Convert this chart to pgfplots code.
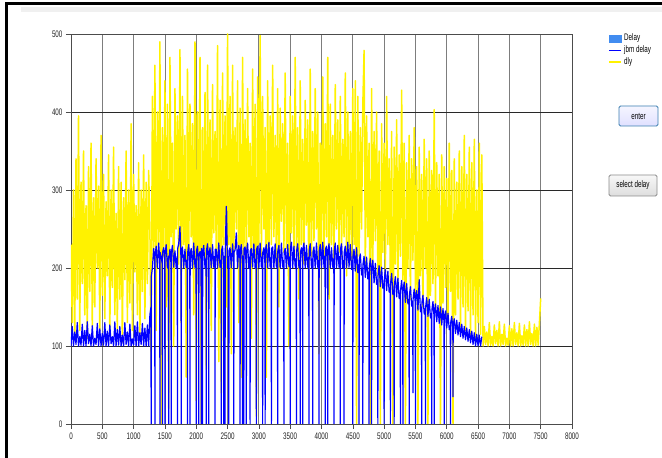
\documentclass[border=0pt]{standalone}
\usepackage{fontspec}
\usepackage{pgfplots}
\pgfplotsset{compat=1.18}
\newfontfamily\lf[FakeStretch=0.66]{Liberation Sans}
\newcommand{\lfs}{\lf\fontsize{9.5}{11}\selectfont}
\definecolor{delayblue}{RGB}{65,140,240}
\definecolor{ygrid}{RGB}{40,40,40}
\definecolor{xgrid}{RGB}{125,125,125}
\definecolor{btnb}{RGB}{60,127,177}
\begin{document}
\begin{tikzpicture}[x=1pt,y=1pt]
\useasboundingbox (0,0) rectangle (662,458);
\fill[white] (0,0) rectangle (662,458);
\fill[black!6] (21,446.3) rectangle (662,450.7);
\draw[line width=3.2pt] (6.5,-2) -- (6.5,454.2) -- (664,454.2);
\begin{axis}[
  at={(71pt,34pt)}, anchor=origin, scale only axis,
  width=501pt, height=390pt,
  xmin=0, xmax=8000, ymin=0, ymax=500,
  xtick={0,500,...,8000}, ytick={0,100,...,500},
  scaled x ticks=false, scaled y ticks=false,
  xmajorgrids, ymajorgrids,
  x grid style={xgrid, line width=0.8pt},
  y grid style={ygrid, line width=0.8pt},
  axis line style={black!70, line width=0.8pt},
  tick align=outside, major tick length=5pt, tick pos=left,
  tick style={black!70, line width=0.6pt},
  ticklabel style={font=\lfs, text=black!85},
  /pgf/number format/assume math mode=true,
  /pgf/number format/1000 sep={},
  legend cell align=left,
  legend style={at={(1.0719,1.0)}, anchor=north west, draw=none, fill=none,
    inner sep=0pt, row sep=3.5pt,
    nodes={inner sep=0pt, text height=6.5pt, text depth=2pt, font=\lfs},
    /tikz/every odd column/.append style={column sep=2pt}},
]
\addlegendimage{legend image code/.code={\fill[delayblue] (0pt,-3.5pt) rectangle (12pt,3.5pt);}}
\addlegendentry{Delay}
\addlegendimage{legend image code/.code={\draw[blue,line width=1.6pt] (0pt,0pt) -- (12pt,0pt);}}
\addlegendentry{jbm delay}
\addlegendimage{legend image code/.code={\draw[yellow,line width=2pt] (0pt,0pt) -- (12pt,0pt);}}
\addlegendentry{dly}
% dly
\addplot[yellow, line width=1.5pt, line join=round, forget plot] coordinates {
(0,230)(20,130)(40,300)(60,115)(80,340)(100,160)(120,395)(140,120)(160,310)(180,180)
(200,350)(220,140)(240,280)(260,110)(280,330)(300,170)(320,360)(340,125)(360,290)(380,150)
(400,340)(420,200)(440,305)(460,120)(480,370)(500,165)(520,320)(540,135)(560,285)(580,190)
(600,345)(620,115)(640,300)(660,175)(680,355)(700,140)(720,270)(740,120)(760,330)(780,160)
(800,310)(820,105)(840,290)(860,185)(880,350)(900,130)(920,300)(940,155)(960,385)(980,120)
(1000,320)(1020,195)(1040,280)(1060,140)(1080,335)(1100,110)(1120,300)(1140,170)(1160,345)(1180,135)
(1200,310)(1220,180)(1240,325)
(1260,250)(1280,70)(1300,420)
(1320,210)(1340,460)(1360,120)(1380,400)(1400,230)(1420,490)(1440,0)(1460,380)(1480,215)(1500,440)
(1520,150)(1540,410)(1560,20)(1580,470)(1600,240)(1620,360)(1640,100)(1660,430)(1680,250)(1700,395)
(1720,205)(1740,480)(1760,130)(1780,420)(1800,230)(1820,370)(1840,60)(1860,455)(1880,220)(1900,410)
(1920,240)(1940,385)(1960,140)(1980,490)(2000,30)(2020,400)(2040,210)(2060,470)(2080,0)(2100,380)
(2120,225)(2140,425)(2160,70)(2180,460)(2200,220)(2220,390)(2240,120)(2260,435)(2280,245)(2300,375)
(2320,210)(2340,485)(2360,80)(2380,415)(2400,40)(2420,450)(2440,230)(2460,395)(2480,150)(2500,500)
(2520,230)(2540,420)(2560,90)(2580,460)(2600,215)(2620,380)(2640,250)(2660,440)(2680,130)(2700,405)
(2720,60)(2740,470)(2760,210)(2780,390)(2800,200)(2820,430)(2840,240)(2860,360)(2880,110)(2900,455)
(2920,220)(2940,410)(2960,10)(2980,445)(3000,230)
(3020,498)(3040,215)(3060,420)(3080,250)(3100,380)(3120,60)(3140,440)(3160,210)(3180,395)(3200,230)
(3220,460)(3240,240)(3260,370)(3280,205)(3300,430)(3320,150)(3340,405)(3360,260)(3380,385)(3400,220)
(3420,450)(3440,225)(3460,360)(3480,100)(3500,420)(3520,245)(3540,395)(3560,210)(3580,470)(3600,215)
(3620,380)(3640,160)(3660,440)(3680,230)(3700,365)(3720,205)(3740,415)(3760,255)(3780,390)(3800,140)
(3820,455)(3840,215)(3860,375)(3880,235)(3900,430)(3920,250)(3940,400)(3960,90)(3980,360)(4000,225)
(4020,445)(4040,215)(4060,385)(4080,240)(4100,470)(4120,160)(4140,410)(4160,230)(4180,370)(4200,205)
(4220,435)(4240,250)(4260,390)(4280,220)(4300,420)(4320,215)(4340,365)(4360,240)(4380,450)(4400,190)
(4420,400)(4440,225)(4460,375)(4480,200)(4500,430)
(4520,230)(4540,440)(4560,0)(4580,420)(4600,215)(4620,380)(4640,250)(4660,410)(4680,479)(4700,200)
(4720,395)(4740,240)(4760,360)(4780,0)(4800,430)(4820,210)(4840,375)(4860,235)(4880,400)(4900,190)
(4920,350)(4940,0)(4960,385)(4980,220)(5000,360)(5020,195)(5040,420)(5060,230)(5080,340)(5100,180)
(5120,375)(5140,0)(5160,355)(5180,205)(5200,390)(5220,175)(5240,345)(5260,215)(5280,428)(5300,185)
(5320,360)(5340,0)(5360,335)(5380,200)(5400,370)(5420,160)(5440,340)(5460,210)(5480,380)(5500,170)
(5520,330)(5540,0)(5560,355)(5580,190)(5600,320)(5620,150)(5640,365)(5660,200)(5680,340)(5700,0)
(5720,350)(5740,165)(5760,325)(5780,180)(5800,403)(5820,145)(5840,335)(5860,190)(5880,320)(5900,0)
(5920,345)(5940,155)(5960,330)(5980,175)(6000,315)(6020,135)(6040,360)(6060,170)(6080,325)(6100,0)
(6120,340)(6140,140)(6160,310)(6180,160)(6200,350)(6220,125)(6240,330)(6260,150)(6280,370)(6300,120)
(6320,320)(6340,145)(6360,355)(6380,115)(6400,335)(6420,140)(6440,365)(6460,110)(6480,300)(6500,130)
(6520,360)(6540,115)(6560,345)
(6580,100)(6600,125)(6620,102)(6640,118)(6660,100)(6680,130)(6700,101)(6720,112)(6740,100)(6760,127)
(6780,103)(6800,120)(6820,100)(6840,131)(6860,100)(6880,115)(6900,102)(6920,128)(6940,100)(6960,110)
(6980,101)(7000,126)(7020,100)(7040,122)(7060,100)(7080,130)(7100,102)(7120,117)(7140,100)(7160,129)
(7180,100)(7200,113)(7220,101)(7240,127)(7260,100)(7280,121)(7300,100)(7320,131)(7340,102)(7360,116)
(7380,100)(7400,128)(7420,100)(7440,124)(7460,101)(7480,130)(7500,161)
};
% jbm delay
\addplot[blue, line width=1.2pt, line join=round, forget plot] coordinates {
(0,100)(20,125)(40,100)(60,118)(80,102)(100,130)(120,100)(140,112)(160,101)(180,128)
(200,100)(220,120)(240,100)(260,131)(280,103)(300,115)(320,100)(340,126)(360,100)(380,110)
(400,102)(420,129)(440,100)(460,122)(480,100)(500,116)(520,101)(540,130)(560,100)(580,119)
(600,100)(620,127)(640,103)(660,112)(680,100)(700,131)(720,100)(740,121)(760,101)(780,125)
(800,100)(820,114)(840,100)(860,130)(880,102)(900,118)(920,100)(940,128)(960,100)(980,109)
(1000,101)(1020,126)(1040,100)(1060,131)(1080,100)(1100,117)(1120,102)(1140,129)(1160,100)(1180,123)
(1200,100)(1220,127)(1240,100)
(1260,140)(1277,150)(1280,0)(1283,190)(1300,200)(1320,225)(1337,210)(1340,0)(1343,215)(1360,228)(1380,200)(1400,232)(1417,210)(1420,0)(1423,220)(1440,215)
(1457,205)(1460,0)(1463,220)(1480,226)(1497,210)(1500,0)(1503,218)(1520,230)(1540,200)(1557,215)(1560,0)(1563,210)(1580,224)(1597,205)(1600,0)(1603,220)(1620,229)(1640,201)
(1660,222)(1680,200)(1697,215)(1700,0)(1703,225)(1720,231)(1740,253)(1757,210)(1760,0)(1763,220)(1780,227)(1800,200)(1820,224)(1840,201)
(1857,210)(1860,0)(1863,220)(1880,230)(1897,205)(1900,0)(1903,218)(1920,225)(1940,200)(1960,232)(1980,201)(1997,212)(2000,0)(2003,222)(2020,228)(2037,205)(2040,0)(2043,215)
(2060,221)(2077,210)(2080,0)(2083,225)(2097,205)(2100,0)(2103,220)(2120,229)(2140,200)(2157,212)(2160,0)(2163,222)(2180,231)(2197,205)(2200,0)(2203,218)(2220,226)(2240,200)
(2260,230)(2280,201)(2297,215)(2300,0)(2303,224)(2320,224)(2340,200)(2360,232)(2380,201)(2397,210)(2400,0)(2403,222)(2420,228)(2437,205)(2440,0)(2443,215)
(2457,210)(2460,0)(2463,220)(2480,279)(2500,200)(2517,215)(2520,0)(2523,222)(2540,226)(2560,200)(2580,231)(2597,208)(2600,0)(2603,220)(2620,223)(2640,245)
(2660,200)(2680,229)(2697,212)(2700,0)(2703,222)(2720,230)(2737,205)(2740,0)(2743,215)(2757,210)(2760,0)(2763,225)(2780,227)(2797,205)(2800,0)(2803,220)(2820,232)(2840,200)
(2857,215)(2860,0)(2863,222)(2880,225)(2900,201)(2920,231)(2940,200)(2957,212)(2960,0)(2963,224)(2980,228)(3000,200)(3020,232)(3040,201)
(3057,215)(3060,0)(3063,220)(3080,226)(3097,205)(3100,0)(3103,222)(3120,230)(3140,200)(3160,233)(3180,201)(3197,214)(3200,0)(3203,225)(3220,227)(3240,200)
(3260,231)(3280,201)(3297,212)(3300,0)(3303,222)(3320,229)(3340,200)(3360,232)(3380,201)(3397,210)(3400,0)(3403,220)(3420,225)(3440,200)
(3460,230)(3480,202)(3497,215)(3500,0)(3503,224)(3520,233)(3540,200)(3560,228)(3580,201)(3597,212)(3600,0)(3603,222)(3620,231)(3640,200)
(3657,210)(3660,0)(3663,220)(3680,226)(3697,205)(3700,0)(3703,224)(3720,232)(3740,200)(3760,229)(3780,201)(3797,214)(3800,0)(3803,222)(3820,231)(3840,200)
(3857,212)(3860,0)(3863,220)(3880,227)(3900,200)(3920,232)(3940,201)(3957,210)(3960,0)(3963,222)(3980,230)(4000,200)(4020,233)(4040,201)
(4057,215)(4060,0)(4063,224)(4080,228)(4097,205)(4100,0)(4103,220)(4120,231)(4140,200)(4160,226)(4180,201)(4197,212)(4200,0)(4203,222)(4220,232)(4240,200)
(4260,229)(4280,201)(4297,215)(4300,0)(4303,224)(4320,231)(4340,200)(4357,210)(4360,0)(4363,220)(4380,228)(4400,200)(4420,233)(4440,201)
(4460,230)(4480,198)(4497,210)(4500,0)(4503,215)(4520,224)(4540,196)(4560,226)(4580,194)(4597,205)(4600,0)(4603,210)(4620,218)(4640,191)
(4657,200)(4660,0)(4663,205)(4680,215)(4700,188)(4720,214)(4740,186)(4757,195)(4760,0)(4763,200)(4780,212)(4797,190)(4800,0)(4803,195)(4820,210)(4840,181)
(4860,206)(4880,179)(4897,185)(4900,0)(4903,190)(4920,203)(4940,176)(4960,201)(4980,174)(4997,180)(5000,0)(5003,185)(5020,198)(5040,171)
(5060,196)(5080,169)(5097,175)(5100,0)(5103,180)(5120,193)(5140,166)(5157,172)(5160,0)(5163,178)(5180,189)(5200,163)(5220,187)(5240,161)
(5257,168)(5260,0)(5263,172)(5280,184)(5297,165)(5300,0)(5303,170)(5320,182)(5340,156)(5360,180)(5380,154)(5397,160)(5400,0)(5403,165)(5420,176)(5440,151)
(5457,158)(5460,40)(5463,160)(5480,173)(5497,155)(5500,0)(5503,160)(5520,171)(5540,146)(5560,185)(5580,144)(5597,150)(5600,0)(5603,155)(5620,165)(5640,141)
(5657,148)(5660,0)(5663,150)(5680,162)(5700,138)(5720,160)(5740,136)(5757,142)(5760,0)(5763,146)(5780,157)(5797,138)(5800,0)(5803,142)(5820,154)(5840,131)
(5860,152)(5880,129)(5900,150)(5920,127)(5940,148)(5957,130)(5960,0)(5963,135)(5980,145)(6000,123)(6020,142)(6040,121)
(6057,126)(6060,0)(6063,130)(6080,138)(6097,122)(6100,35)(6103,126)(6120,135)(6140,116)(6160,133)(6180,114)(6200,130)(6220,112)(6240,128)
(6260,110)(6280,125)(6300,108)(6320,123)(6340,106)(6360,121)(6380,104)(6400,119)(6420,102)(6440,117)
(6460,100)(6480,115)(6500,100)(6520,114)(6540,100)(6560,112)
};
\end{axis}
\draw[btnb, line width=0.8pt, rounded corners=1.5pt, top color=blue!4, bottom color=blue!12] (619,332) rectangle (658,352);
\node[font=\lfs, inner sep=0pt] at (638.5,342) {enter};
\draw[black!45, line width=0.8pt, rounded corners=1.5pt, top color=black!3, bottom color=black!13] (609,262) rectangle (657,283);
\node[font=\lfs, inner sep=0pt] at (633,272.5) {select delay};
\end{tikzpicture}
\end{document}
